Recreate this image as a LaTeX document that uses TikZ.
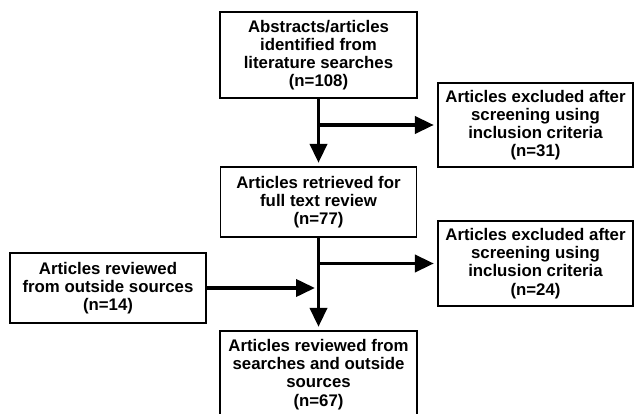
\documentclass[tikz,border=0pt]{standalone}
\usepackage{fontspec}
\setmainfont{Liberation Sans}
\usetikzlibrary{arrows.meta}
\tikzset{
  box/.style={draw=black, line width=1.3pt, rectangle, align=center, inner sep=0pt,
    font=\fontsize{16.8}{18.2}\selectfont\bfseries},
  arr/.style={line width=3.8pt, -{Triangle[length=19pt,width=17pt]}, shorten >=3.5pt}
}
\begin{document}
\begin{tikzpicture}[x=1pt,y=-1pt]
\useasboundingbox (0,0) rectangle (634,414);
\begin{scope}
\clip (0,0) rectangle (634,414);
\node[box, minimum width=197pt, minimum height=86pt] (b1) at (318.5,55) {Abstracts/articles\\identified from\\literature searches\\(n=108)};
\node[box, minimum width=195pt, minimum height=84pt] (r1) at (535.5,125) {Articles excluded after\\screening using\\inclusion criteria\\(n=31)};
\node[box, minimum width=196pt, minimum height=70pt] (b2) at (318.5,202) {Articles retrieved for\\full text review\\(n=77)};
\node[box, minimum width=196pt, minimum height=70pt] (l) at (108,288) {Articles reviewed\\from outside sources\\(n=14)};
\node[box, minimum width=195pt, minimum height=85pt] (r2) at (535.5,263.5) {Articles excluded after\\screening using\\inclusion criteria\\(n=24)};
\node[box, minimum width=197pt, minimum height=87pt] (b4) at (318.5,374.5) {Articles reviewed from\\searches and outside\\sources\\(n=67)};
\draw[arr] (b1.south) -- (b2.north);
\draw[arr] (b1.south |- r1.west) -- (r1.west);
\draw[arr] (b2.south) -- (b4.north);
\draw[arr] (b2.south |- r2.west) -- (r2.west);
\draw[arr] (l.east) -- (l.east -| b2.south);
\end{scope}
\end{tikzpicture}
\end{document}
